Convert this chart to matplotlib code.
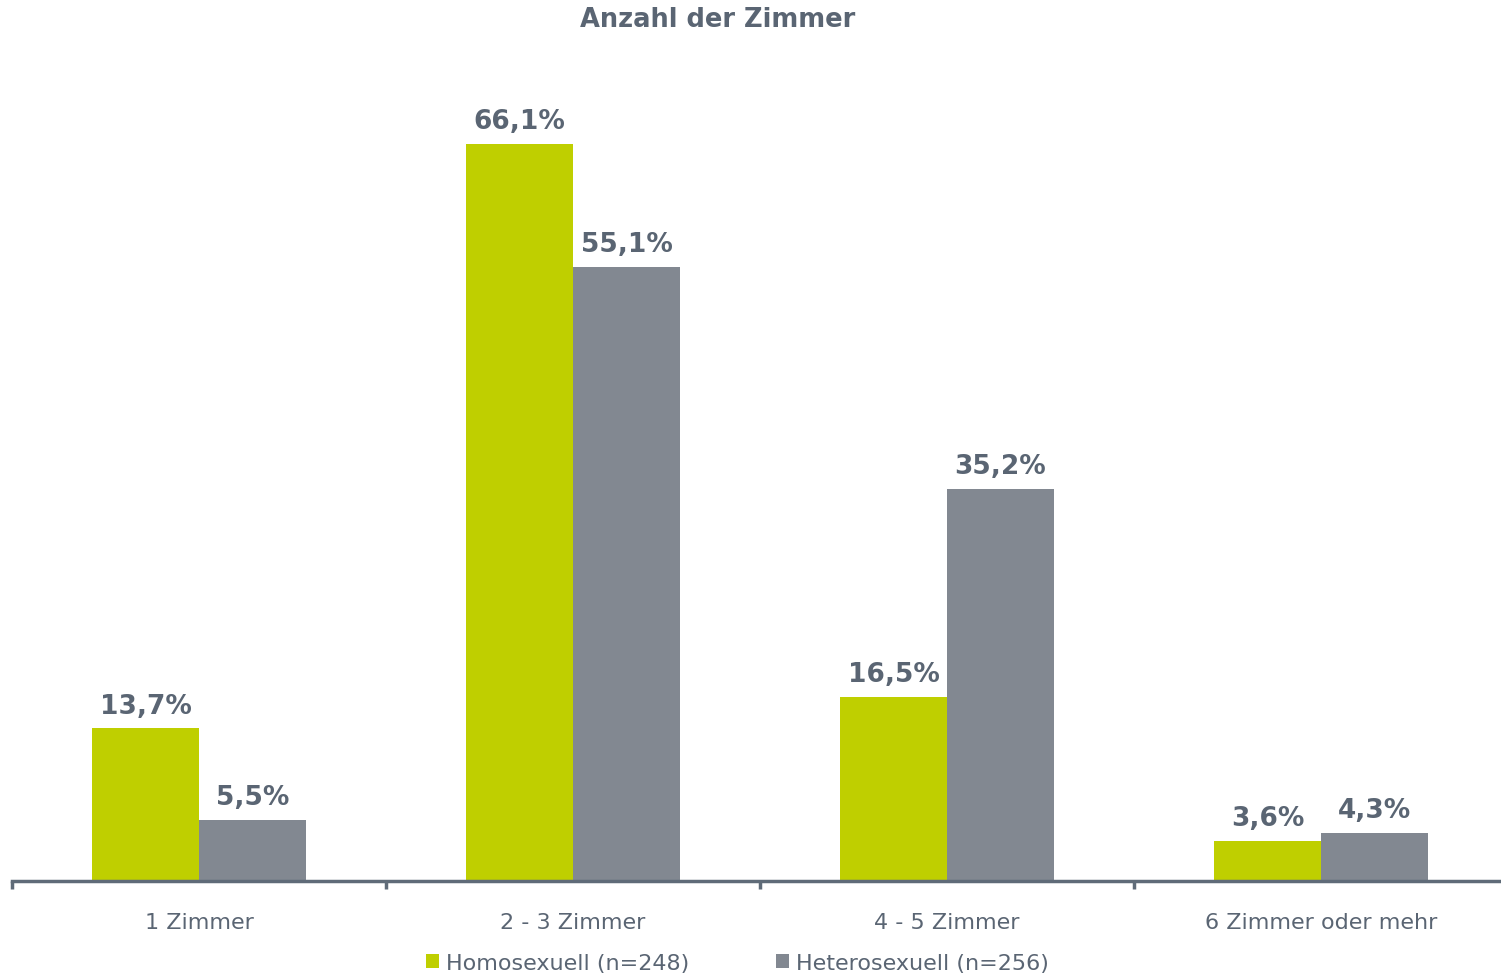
import numpy as np
import matplotlib.pyplot as plt

categories = ['1 Zimmer', '2 - 3 Zimmer', '4 - 5 Zimmer', '6 Zimmer oder mehr']
homo = [13.7, 66.1, 16.5, 3.6]
hetero = [5.5, 55.1, 35.2, 4.3]
series_names = ['Homosexuell (n=248)', 'Heterosexuell (n=256)']

green = '#bfcf00'
grey = '#828891'
txt = '#5a6573'

plt.rcParams['font.family'] = ['DejaVu Sans']

fig = plt.figure(figsize=(15.01, 9.78), dpi=100)
# axes: left edge at px 12, baseline at px 882 from top
ax = fig.add_axes([12/1501, 96/978, 1489/1501, 790/978])

x = np.arange(len(categories))
w = 0.286
b1 = ax.bar(x - w/2, homo, w, color=green, label=series_names[0])
b2 = ax.bar(x + w/2, hetero, w, color=grey, label=series_names[1])

for bars, vals in [(b1, homo), (b2, hetero)]:
    for r, v in zip(bars, vals):
        ax.annotate(('%.1f%%' % v).replace('.', ','),
                    (r.get_x() + r.get_width()/2, r.get_height()),
                    xytext=(0, 7), textcoords='offset points',
                    ha='center', va='bottom', fontsize=19,
                    fontweight='bold', color=txt)

for s in ['top', 'right', 'left']:
    ax.spines[s].set_visible(False)
ax.spines['bottom'].set_color('#5f6b78')
ax.spines['bottom'].set_linewidth(2.5)
ax.set_yticks([])

# ticks at category boundaries, labels at centers
ax.set_xticks(np.arange(len(categories) + 1) - 0.5)
ax.set_xticklabels([])
ax.tick_params(axis='x', which='major', length=6, width=2.5, color='#5f6b78')
ax.set_xticks(x, minor=True)
ax.set_xticklabels(categories, minor=True, fontsize=16, color=txt)
ax.tick_params(axis='x', which='minor', length=0, pad=22)

# limits last, so the boundary ticks don't stretch the view
ax.set_xlim(-0.5, -0.5 + 1489/374)
ax.set_ylim(0, 790/11.15)

fig.text(718/1501, 1 - 20/978, 'Anzahl der Zimmer', ha='center', va='center',
         fontsize=18.5, fontweight='bold', color=txt)

leg = fig.legend(loc='center', bbox_to_anchor=(737/1501, 1 - 964/978), ncol=2,
                 frameon=False, fontsize=16, handlelength=0.6, handleheight=0.6,
                 handletextpad=0.3, columnspacing=3.9)
for t in leg.get_texts():
    t.set_color(txt)

plt.savefig('out.png', dpi=100)
